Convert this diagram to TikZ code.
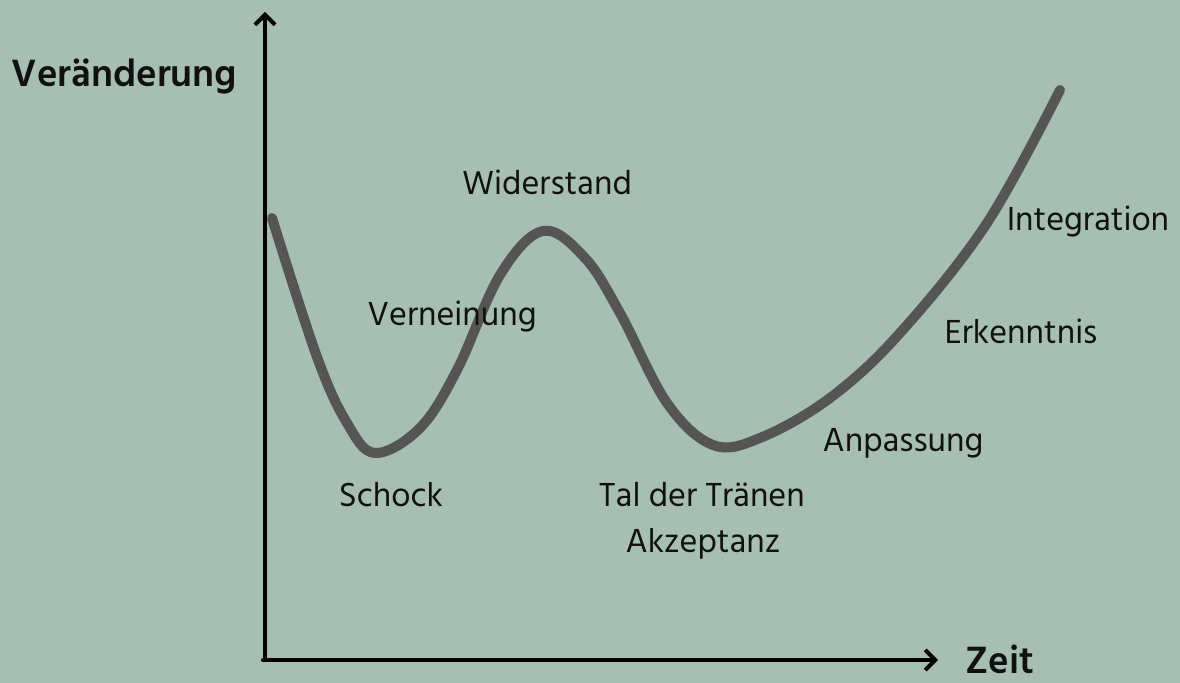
\documentclass[tikz,border=0pt]{standalone}
\usepackage{fontspec}
\setmainfont{Hind Madurai}
\usetikzlibrary{arrows.meta}
\definecolor{sage}{HTML}{A7BFB2}
\definecolor{curvegray}{HTML}{555555}
\definecolor{ink}{HTML}{111111}

\begin{document}
\begin{tikzpicture}[x=0.5pt,y=-0.5pt,line cap=round,line join=round,
  every node/.style={inner sep=0pt,text=ink,font=\fontsize{17.1}{20}\selectfont},
  axislabel/.style={anchor=base,font=\fontsize{19.5}{22}\selectfont\bfseries}]
  \fill[sage] (0,0) rectangle (1180,683);
  \useasboundingbox (0,0) rectangle (1180,683);
  % axes
  \coordinate (O) at (265,660);
  \coordinate (Ytop) at (265,12);
  \coordinate (Xend) at (938,660);
  \draw[line width=2pt,-{Straight Barb[length=5pt,width=10pt,line width=2pt]}] (O) -- (Ytop);
  \draw[line width=2pt,-{Straight Barb[length=5pt,width=10pt,line width=2pt]}] ([xshift=-1pt]O) -- (Xend);
  \node[axislabel] (yl) at (124.5,87) {Veränderung};
  \node[axislabel] (xl) at (1000,674) {Zeit};
  % curve
  \draw[curvegray,line width=5pt] plot[smooth,tension=0.6] coordinates {
    (272,218) (317,357) (347,423) (375,453) (420,428) (457,370)
    (500,275) (543,231) (585,258) (620,313) (667,403) (713,445)
    (760,438) (830,398) (900,333) (987,223) (1060,90)};
  % phases
  \node (shock) at (391,495) {Schock};
  \node (deny) at (452,317) {Verneinung};
  \node (resist) at (547,182) {Widerstand};
  \node (vale) at (702,495) {Tal der Tränen};
  \node (accept) at (703,544) {Akzeptanz};
  \node (adapt) at (903,443) {Anpassung};
  \node (insight) at (1021,331) {Erkenntnis};
  \node (integr) at (1088,222) {Integration};
\end{tikzpicture}
\end{document}
